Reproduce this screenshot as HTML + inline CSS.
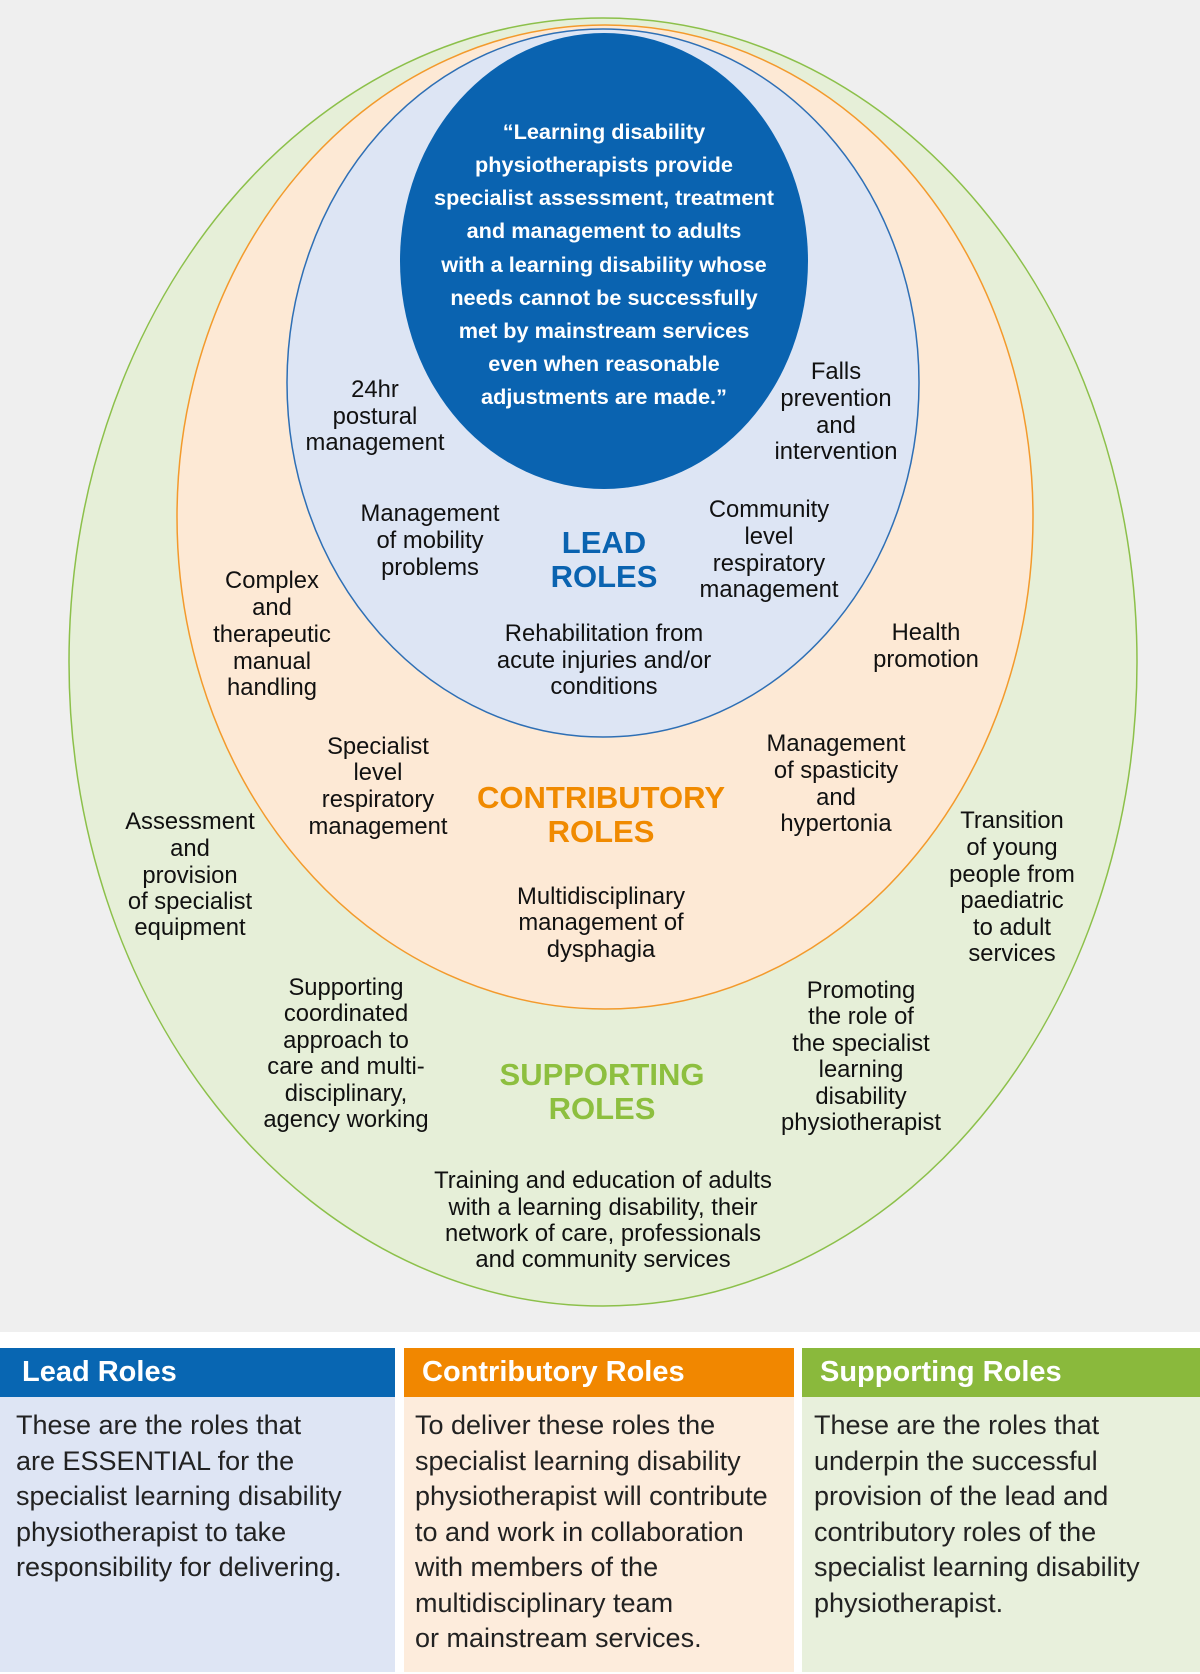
<!DOCTYPE html>
<html><head><meta charset="utf-8"><style>
body{margin:0;width:1200px;height:1674px;background:#fff;overflow:hidden;font-family:"Liberation Sans",sans-serif}
svg{position:absolute;left:0;top:0}
.t{font-size:23.8px;fill:#111;text-anchor:middle}
.q{font-size:21.7px;fill:#fff;font-weight:bold;text-anchor:middle}
.h{font-size:31px;font-weight:bold;text-anchor:middle}
.col{position:absolute;top:1348px;height:324px}
.hd{height:49px;color:#fff;font-weight:bold;font-size:29px;line-height:49px;padding-left:20px}
.bd{padding:11px 0 0 16px;font-size:27px;line-height:35.5px;color:#222;height:264px;white-space:nowrap}
</style></head><body>
<svg width="1200" height="1674">
<rect x="0" y="0" width="1200" height="1332" fill="#efefef"/>
<ellipse cx="603" cy="662" rx="534" ry="644" fill="#e6efd8" stroke="#8cc04a" stroke-width="1.5"/>
<ellipse cx="605" cy="517" rx="428" ry="492" fill="#fde9d5" stroke="#f39a2c" stroke-width="1.5"/>
<ellipse cx="603" cy="383" rx="316" ry="354" fill="#dde5f4" stroke="#2e6fb5" stroke-width="1.5"/>
<ellipse cx="604" cy="261" rx="204" ry="228" fill="#0a63b0"/>
<g class="q">
<text x="604" y="139">“Learning disability</text>
<text x="604" y="172">physiotherapists provide</text>
<text x="604" y="205">specialist assessment, treatment</text>
<text x="604" y="238">and management to adults</text>
<text x="604" y="272">with a learning disability whose</text>
<text x="604" y="305">needs cannot be successfully</text>
<text x="604" y="338">met by mainstream services</text>
<text x="604" y="371">even when reasonable</text>
<text x="604" y="404">adjustments are made.”</text>
</g>
<g class="t">
<text x="375" y="397">24hr</text><text x="375" y="424">postural</text><text x="375" y="450">management</text>
<text x="836" y="379">Falls</text><text x="836" y="406">prevention</text><text x="836" y="433">and</text><text x="836" y="459">intervention</text>
<text x="430" y="521">Management</text><text x="430" y="548">of mobility</text><text x="430" y="575">problems</text>
<text x="769" y="517">Community</text><text x="769" y="544">level</text><text x="769" y="571">respiratory</text><text x="769" y="597">management</text>
<text x="272" y="588">Complex</text><text x="272" y="615">and</text><text x="272" y="642">therapeutic</text><text x="272" y="669">manual</text><text x="272" y="695">handling</text>
<text x="604" y="641">Rehabilitation from</text><text x="604" y="668">acute injuries and/or</text><text x="604" y="694">conditions</text>
<text x="926" y="640">Health</text><text x="926" y="667">promotion</text>
<text x="378" y="754">Specialist</text><text x="378" y="780">level</text><text x="378" y="807">respiratory</text><text x="378" y="834">management</text>
<text x="836" y="751">Management</text><text x="836" y="778">of spasticity</text><text x="836" y="805">and</text><text x="836" y="831">hypertonia</text>
<text x="190" y="829">Assessment</text><text x="190" y="856">and</text><text x="190" y="883">provision</text><text x="190" y="909">of specialist</text><text x="190" y="935">equipment</text>
<text x="1012" y="828">Transition</text><text x="1012" y="855">of young</text><text x="1012" y="882">people from</text><text x="1012" y="908">paediatric</text><text x="1012" y="935">to adult</text><text x="1012" y="961">services</text>
<text x="601" y="904">Multidisciplinary</text><text x="601" y="930">management of</text><text x="601" y="957">dysphagia</text>
<text x="346" y="995">Supporting</text><text x="346" y="1021">coordinated</text><text x="346" y="1048">approach to</text><text x="346" y="1074">care and multi-</text><text x="346" y="1101">disciplinary,</text><text x="346" y="1127">agency working</text>
<text x="861" y="998">Promoting</text><text x="861" y="1024">the role of</text><text x="861" y="1051">the specialist</text><text x="861" y="1077">learning</text><text x="861" y="1104">disability</text><text x="861" y="1130">physiotherapist</text>
<text x="603" y="1188">Training and education of adults</text><text x="603" y="1215">with a learning disability, their</text><text x="603" y="1241">network of care, professionals</text><text x="603" y="1267">and community services</text>
</g>
<g class="h">
<text x="604" y="553" fill="#0a63b0">LEAD</text><text x="604" y="587" fill="#0a63b0">ROLES</text>
<text x="601" y="808" fill="#f08a00">CONTRIBUTORY</text><text x="601" y="842" fill="#f08a00">ROLES</text>
<text x="602" y="1085" fill="#8dbf3f">SUPPORTING</text><text x="602" y="1119" fill="#8dbf3f">ROLES</text>
</g>
</svg>
<div class="col" style="left:0;width:395px">
<div class="hd" style="background:#0866b2;padding-left:22px">Lead Roles</div>
<div class="bd" style="background:#dee5f4">These are the roles that<br>are ESSENTIAL for the<br>specialist learning disability<br>physiotherapist to take<br>responsibility for delivering.</div>
</div>
<div class="col" style="left:404px;width:390px">
<div class="hd" style="background:#f18700;padding-left:18px">Contributory Roles</div>
<div class="bd" style="background:#fdecdc;padding-left:11px">To deliver these roles the<br>specialist learning disability<br>physiotherapist will contribute<br>to and work in collaboration<br>with members of the<br>multidisciplinary team<br>or mainstream services.</div>
</div>
<div class="col" style="left:802px;width:398px">
<div class="hd" style="background:#8ab93c;padding-left:18px">Supporting Roles</div>
<div class="bd" style="background:#e8f0dc;padding-left:12px">These are the roles that<br>underpin the successful<br>provision of the lead and<br>contributory roles of the<br>specialist learning disability<br>physiotherapist.</div>
</div>
</body></html>
